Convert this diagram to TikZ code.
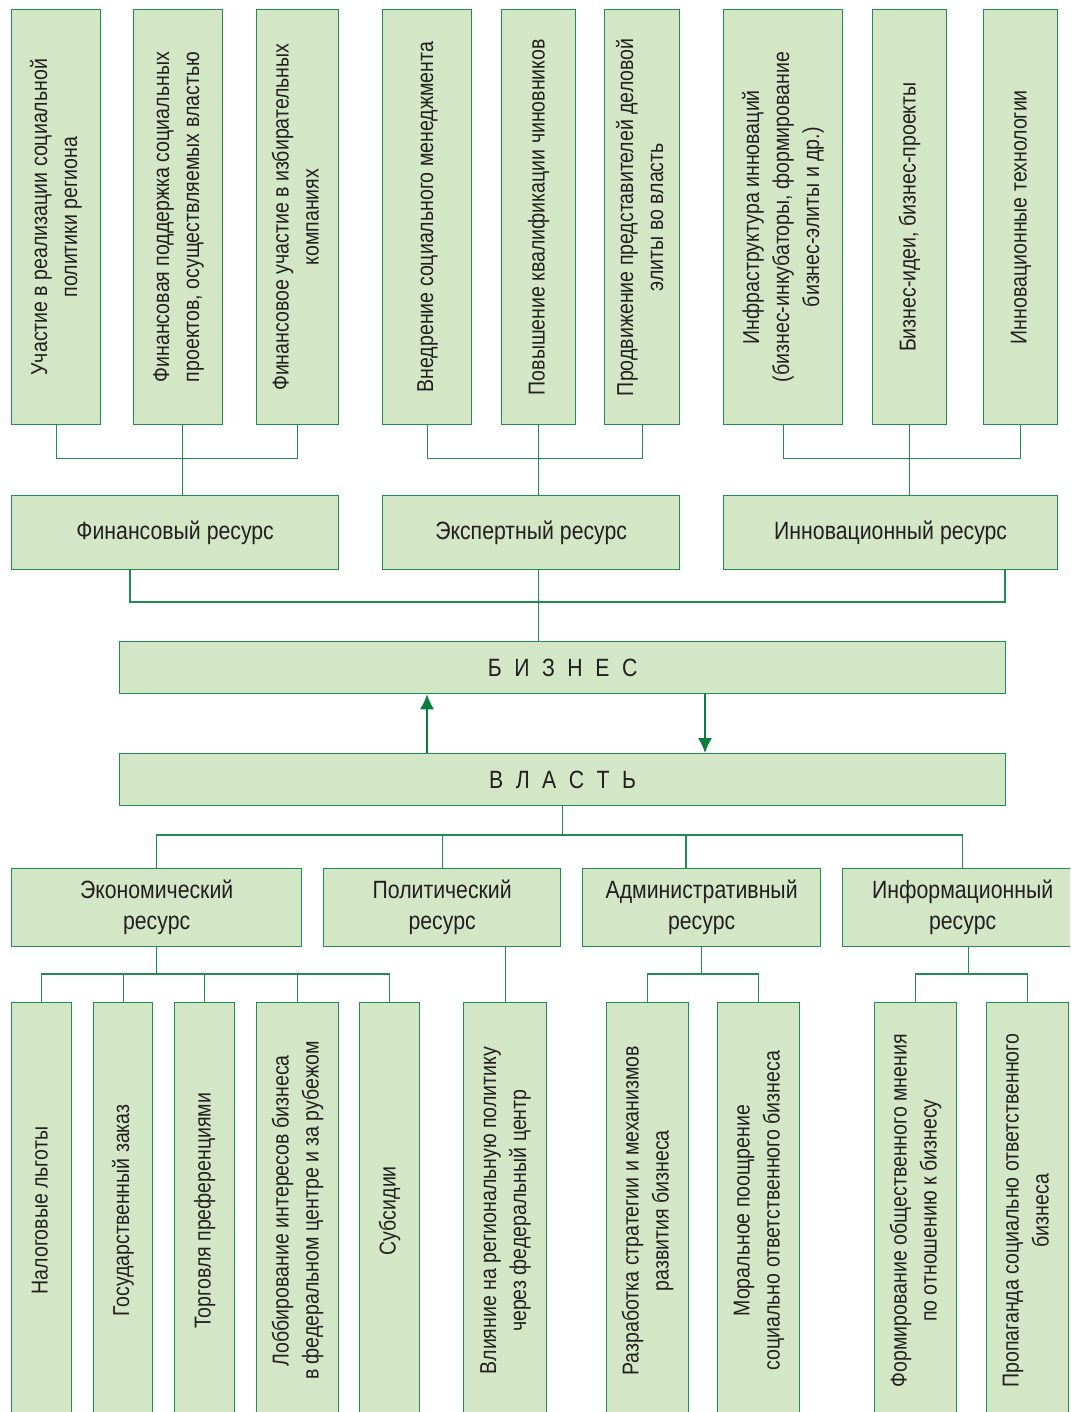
\documentclass[tikz,border=0pt]{standalone}
\usepackage{fontspec}
\setmainfont{Liberation Sans}[FakeStretch=0.85]
\usetikzlibrary{arrows.meta}
\definecolor{boxfill}{RGB}{211,231,199}
\definecolor{boxline}{RGB}{32,140,82}
\definecolor{arrowgreen}{RGB}{10,125,60}
\definecolor{ink}{RGB}{35,31,32}
\newcommand{\vtext}[1]{\rotatebox{90}{\begin{tabular}{@{}c@{}}#1\end{tabular}}}
\newcommand{\lsp}{\hspace{12.5pt}}
\tikzset{
  box/.style={draw=boxline, fill=boxfill, line width=1.3pt, text=ink, inner sep=0pt, anchor=north west},
  vbox/.style={box, font=\fontsize{23}{30}\selectfont},
  rbox/.style={box, align=center, font=\fontsize{25}{31}\selectfont},
  link/.style={draw=boxline, line width=1.3pt},
  arr/.style={draw=arrowgreen, fill=arrowgreen, line width=1.3pt, -{Latex[length=15pt,width=14pt]}},
}

\begin{document}
\begin{tikzpicture}[x=1pt,y=-1pt]
    \useasboundingbox (0,0) rectangle (1070,1412);
    \fill[white] (0,0) rectangle (1070,1412);
    \clip (0,0) rectangle (1070,1412);
    % top row
    \node[vbox, minimum width=89, minimum height=415] (f1) at (11,9) {\vtext{Участие в реализации социальной\\политики региона}};
    \node[vbox, minimum width=89, minimum height=415] (f2) at (133,9) {\vtext{Финансовая поддержка социальных\\проектов, осуществляемых властью}};
    \node[vbox, minimum width=82, minimum height=415] (f3) at (256,9) {\vtext{Финансовое участие в избирательных\\компаниях}};
    \node[vbox, minimum width=89, minimum height=415] (f4) at (382,9) {\vtext{Внедрение социального менеджмента}};
    \node[vbox, minimum width=74, minimum height=415] (f5) at (501,9) {\vtext{Повышение квалификации чиновников}};
    \node[vbox, minimum width=75, minimum height=415] (f6) at (604,9) {\vtext{Продвижение представителей деловой\\элиты во власть}};
    \node[vbox, minimum width=119, minimum height=415] (f7) at (723,9) {\vtext{Инфраструктура инноваций\\(бизнес-инкубаторы, формирование\\бизнес-элиты и др.)}};
    \node[vbox, minimum width=74, minimum height=415] (f8) at (872,9) {\vtext{Бизнес-идеи, бизнес-проекты}};
    \node[vbox, minimum width=74, minimum height=415] (f9) at (983,9) {\vtext{Инновационные технологии}};
    % resources of business
    \node[rbox, minimum width=327, minimum height=74] (fin) at (11,495) {Финансовый ресурс};
    \node[rbox, minimum width=297, minimum height=74] (exp) at (382,495) {Экспертный ресурс};
    \node[rbox, minimum width=334, minimum height=74] (inn) at (723,495) {Инновационный ресурс};
    % business and power
    \node[rbox, minimum width=886, minimum height=52] (biz) at (119,641) {Б\lsp И\lsp З\lsp Н\lsp Е\lsp С};
    \node[rbox, minimum width=886, minimum height=52] (vl) at (119,753) {В\lsp Л\lsp А\lsp С\lsp Т\lsp Ь};
    % resources of power
    \node[rbox, minimum width=290, minimum height=78] (econ) at (11,868) {Экономический\\ресурс};
    \node[rbox, minimum width=237, minimum height=78] (pol) at (323,868) {Политический\\ресурс};
    \node[rbox, minimum width=238, minimum height=78] (adm) at (582,868) {Административный\\ресурс};
    \node[rbox, minimum width=240, minimum height=78] (inf) at (842,868) {Информационный\\ресурс};
    % bottom row
    \node[vbox, minimum width=60, minimum height=416] (ea) at (11,1002) {\vtext{Налоговые льготы}};
    \node[vbox, minimum width=59, minimum height=416] (eb) at (93,1002) {\vtext{Государственный заказ}};
    \node[vbox, minimum width=60, minimum height=416] (ec) at (174,1002) {\vtext{Торговля преференциями}};
    \node[vbox, minimum width=82, minimum height=416] (ed) at (256,1002) {\vtext{Лоббирование интересов бизнеса\\в федеральном центре и за рубежом}};
    \node[vbox, minimum width=60, minimum height=416] (ee) at (359,1002) {\vtext{Субсидии}};
    \node[vbox, minimum width=83, minimum height=416] (pf) at (463,1002) {\vtext{Влияние на региональную политику\\через федеральный центр}};
    \node[vbox, minimum width=82, minimum height=416] (ag) at (606,1002) {\vtext{Разработка стратегии и механизмов\\развития бизнеса}};
    \node[vbox, minimum width=82, minimum height=416] (ah) at (717,1002) {\vtext{Моральное поощрение\\социально ответственного бизнеса}};
    \node[vbox, minimum width=82, minimum height=416] (ii) at (874,1002) {\vtext{Формирование общественного мнения\\по отношению к бизнесу}};
    \node[vbox, minimum width=82, minimum height=416] (ij) at (986,1002) {\vtext{Пропаганда социально ответственного\\бизнеса}};
    % bus points
    \coordinate (finbus) at (130,602);
    \coordinate (innbus) at (1005,602);
    \coordinate (admbus) at (686,835);
    \coordinate (up) at (427,0);
    \coordinate (down) at (705,0);
    \begin{scope}[link]
      \draw (f1.south) -- ++(0,33) -| (f3.south);
      \draw ([xshift=4pt]f2.south) -- ([xshift=4pt]f2.south |- fin.north);
      \draw (f4.south) -- ++(0,33) -| (f6.south);
      \draw (f5.south) -- (f5.south |- exp.north);
      \draw (f7.south) -- ++(0,33) -| (f9.south);
      \draw (f8.south) -- (f8.south |- inn.north);
      \draw (fin.south -| finbus) |- (innbus) -- (inn.south -| innbus);
      \draw (exp.south -| f5.south) -- (biz.north -| f5.south);
      \draw (vl.south) -- ++(0,30);
      \draw (econ.north) -- ++(0,-33) -| (inf.north);
      \draw (pol.north) -- ++(0,-33);
      \draw (adm.north -| admbus) -- (admbus);
      \draw (econ.south) -- ++(0,28);
      \draw (ea.north) -- ++(0,-28) -| (ee.north);
      \draw (eb.north) -- ++(0,-28);
      \draw (ec.north) -- ++(0,-28);
      \draw (ed.north) -- ++(0,-28);
      \draw (pol.south -| pf.north) -- (pf.north);
      \draw (adm.south) -- ++(0,28);
      \draw (ag.north) -- ++(0,-28) -| (ah.north);
      \draw ([xshift=6pt]inf.south) -- ++(0,26);
      \draw (ii.north) -- ++(0,-28) -| (ij.north);
    \end{scope}
    \draw[arr] (vl.north -| up) -- (biz.south -| up);
    \draw[arr] (biz.south -| down) -- (vl.north -| down);
\end{tikzpicture}
\end{document}
